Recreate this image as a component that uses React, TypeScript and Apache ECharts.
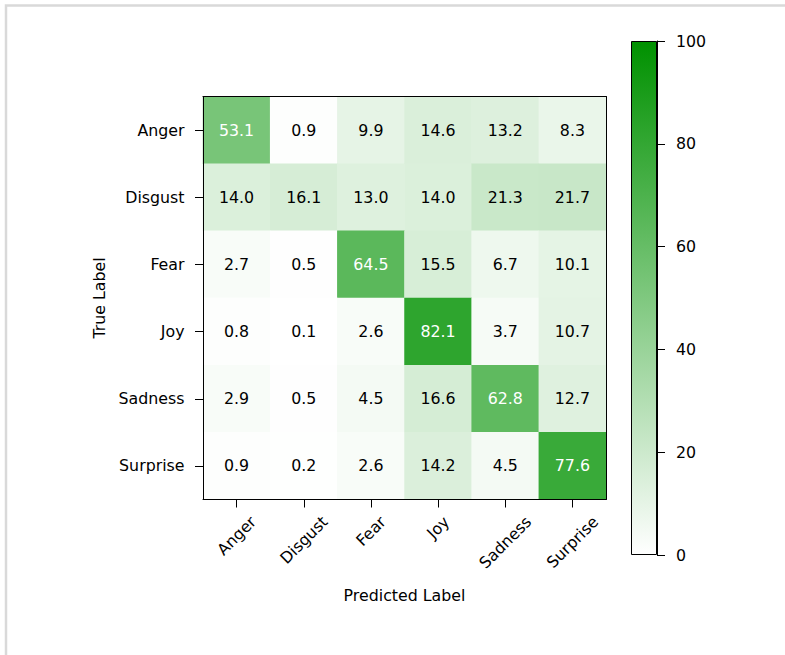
import React, { useEffect, useRef } from "react";
import * as echarts from "echarts";

// Confusion matrix of an emotion classifier (row-normalised, %)
const predictedLabels = ["Anger", "Disgust", "Fear", "Joy", "Sadness", "Surprise"];
const trueLabels = ["Anger", "Disgust", "Fear", "Joy", "Sadness", "Surprise"];

const angerRow = [53.1, 0.9, 9.9, 14.6, 13.2, 8.3];
const disgustRow = [14.0, 16.1, 13.0, 14.0, 21.3, 21.7];
const fearRow = [2.7, 0.5, 64.5, 15.5, 6.7, 10.1];
const joyRow = [0.8, 0.1, 2.6, 82.1, 3.7, 10.7];
const sadnessRow = [2.9, 0.5, 4.5, 16.6, 62.8, 12.7];
const surpriseRow = [0.9, 0.2, 2.6, 14.2, 4.5, 77.6];

const matrix = [angerRow, disgustRow, fearRow, joyRow, sadnessRow, surpriseRow];

const colorbarMin = 0;
const colorbarMax = 100;
const colorbarStep = 20;

const FONT = "DejaVu Sans";
const FS = 15.8;
const LOW = "#ffffff";
const HIGH = "#009100";

function measure(text: string): number {
  const c = document.createElement("canvas");
  const ctx = c.getContext("2d");
  if (!ctx) return text.length * FS * 0.6;
  ctx.font = `${FS}px "${FONT}"`;
  return ctx.measureText(text).width;
}

export default function App() {
  const ref = useRef<HTMLDivElement>(null);

  useEffect(() => {
    if (!ref.current) return;
    const chart = echarts.init(ref.current, null, { renderer: "svg" });

    const heatData: any[] = [];
    matrix.forEach((row, yi) =>
      row.forEach((v, xi) => {
        heatData.push({
          value: [xi, yi, v],
          label: { color: v > 50 ? "#ffffff" : "#000000" },
        });
      })
    );

    const grid0 = { left: 203, top: 96.5, width: 403, height: 403 };
    const frameLine = { show: true, lineStyle: { color: "#000", width: 1 } };

    chart.setOption({
      animation: false,
      backgroundColor: "#ffffff",
      textStyle: { fontFamily: FONT },
      grid: [
        grid0,
        { left: 631, top: 41, width: 26, height: 514 },
      ],
      visualMap: {
        show: false,
        type: "continuous",
        min: colorbarMin,
        max: colorbarMax,
        dimension: 2,
        seriesIndex: 0,
        inRange: { color: [LOW, HIGH] },
      },
      xAxis: [
        {
          gridIndex: 0,
          type: "category",
          data: predictedLabels,
          position: "bottom",
          z: 10,
          axisLine: frameLine,
          axisTick: { show: true, alignWithLabel: true, length: 8, lineStyle: { color: "#000" } },
          axisLabel: { show: false },
          splitLine: { show: false },
          name: "Predicted Label",
          nameLocation: "middle",
          nameGap: 95.5,
          nameTextStyle: { fontSize: FS, color: "#000", fontFamily: FONT, verticalAlign: "middle" },
        },
        {
          gridIndex: 0,
          type: "category",
          data: predictedLabels,
          position: "top",
          z: 10,
          axisLine: frameLine,
          axisTick: { show: false },
          axisLabel: { show: false },
        },
        {
          gridIndex: 1,
          type: "category",
          data: ["scale"],
          show: false,
        },
      ],
      yAxis: [
        {
          gridIndex: 0,
          type: "category",
          data: trueLabels,
          inverse: true,
          position: "left",
          z: 10,
          axisLine: frameLine,
          axisTick: { show: true, alignWithLabel: true, length: 8, lineStyle: { color: "#000" } },
          axisLabel: { fontSize: FS, color: "#000", fontFamily: FONT, margin: 18.5 },
          splitLine: { show: false },
          name: "True Label",
          nameLocation: "middle",
          nameGap: 104,
          nameTextStyle: { fontSize: FS, color: "#000", fontFamily: FONT, verticalAlign: "middle" },
        },
        {
          gridIndex: 0,
          type: "category",
          data: trueLabels,
          inverse: true,
          position: "right",
          z: 10,
          axisLine: frameLine,
          axisTick: { show: false },
          axisLabel: { show: false },
        },
        {
          gridIndex: 1,
          type: "value",
          min: colorbarMin,
          max: colorbarMax,
          interval: colorbarStep,
          position: "right",
          z: 10,
          axisLine: frameLine,
          axisTick: { show: true, length: 8, lineStyle: { color: "#000" } },
          axisLabel: { fontSize: FS, color: "#000", fontFamily: FONT, margin: 19 },
          splitLine: { show: false },
        },
      ],
      series: [
        {
          type: "heatmap",
          xAxisIndex: 0,
          yAxisIndex: 0,
          data: heatData,
          label: {
            show: true,
            fontSize: FS,
            fontFamily: FONT,
            formatter: (p: any) => Number(p.value[2]).toFixed(1),
          },
          itemStyle: { borderWidth: 0 },
          emphasis: { disabled: true },
        },
        {
          type: "bar",
          xAxisIndex: 2,
          yAxisIndex: 2,
          data: [colorbarMax],
          barWidth: "100%",
          silent: true,
          itemStyle: {
            color: new echarts.graphic.LinearGradient(0, 0, 0, 1, [
              { offset: 0, color: HIGH },
              { offset: 1, color: LOW },
            ]),
            borderColor: "#000",
            borderWidth: 1,
          },
        },
      ],
    });

    // Rotated tick labels under the matrix, centred on each tick
    const labelTop = grid0.top + grid0.height + 13;
    const lineH = FS * 1.164;
    const tickTexts = predictedLabels.map((name, i) => {
      const px = chart.convertToPixel({ xAxisIndex: 0 }, i) as number;
      const w = measure(name);
      const half = (w + lineH) / (2 * Math.SQRT2);
      return {
        type: "text",
        x: px,
        y: labelTop + half,
        rotation: Math.PI / 4,
        style: {
          text: name,
          fill: "#000",
          font: `${FS}px "${FONT}"`,
          align: "center",
          verticalAlign: "middle",
        },
        silent: true,
      };
    });

    chart.setOption({
      graphic: [
        {
          type: "rect",
          shape: { x: 6, y: 5.5, width: 2000, height: 2000 },
          style: { fill: "none", stroke: "#d9d9d9", lineWidth: 2.5 },
          silent: true,
          z: -1,
        },
        ...tickTexts,
      ],
    });

    return () => chart.dispose();
  }, []);

  return (
    <div
      ref={ref}
      style={{ position: "absolute", left: 0, top: 0, width: 785, height: 655 }}
    />
  );
}
